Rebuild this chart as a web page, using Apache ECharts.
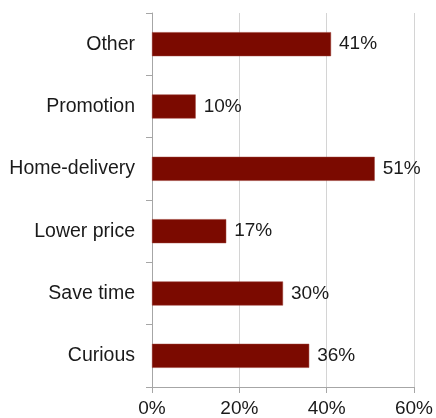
<!DOCTYPE html>
<html>
<head>
<meta charset="utf-8">
<script src="https://cdn.jsdelivr.net/npm/echarts@6/dist/echarts.min.js"></script>
<style>
  html, body { margin: 0; padding: 0; background: #fff; }
  #main { width: 436px; height: 418px; }
</style>
</head>
<body>
<div id="main"></div>
<script>
// categories listed bottom to top
var categories = ['Curious', 'Save time', 'Lower price', 'Home-delivery', 'Promotion', 'Other'];
var shares = [36, 30, 17, 51, 10, 41];
var xTicks = [0, 20, 40, 60];

var myChart = echarts.init(document.getElementById('main'));

var option = {
  backgroundColor: '#FFFFFF',
  animation: false,
  grid: { left: 152, right: 21, top: 13, bottom: 30, containLabel: false },
  xAxis: {
    type: 'value',
    min: xTicks[0],
    max: xTicks[xTicks.length - 1],
    interval: 20,
    axisLine: { show: true, lineStyle: { color: '#a6a6a6' } },
    axisTick: { show: true, length: 6, lineStyle: { color: '#a6a6a6' } },
    splitLine: { show: true, lineStyle: { color: '#d4d4d4' } },
    axisLabel: {
      formatter: '{value}%',
      color: '#1a1a1a',
      fontFamily: 'Liberation Sans',
      fontSize: 19,
      margin: 12
    }
  },
  yAxis: {
    type: 'category',
    data: categories,
    axisLine: { show: true, lineStyle: { color: '#a6a6a6' } },
    axisTick: { show: true, length: 6, lineStyle: { color: '#a6a6a6' } },
    axisLabel: {
      color: '#1a1a1a',
      fontFamily: 'Liberation Sans',
      fontSize: 19.5,
      margin: 17
    }
  },
  series: [{
    type: 'bar',
    data: shares,
    barWidth: 24,
    itemStyle: { color: '#7b0a00', borderColor: '#9a3a30', borderWidth: 0.5 },
    label: {
      show: true,
      position: 'right',
      distance: 8,
      formatter: '{c}%',
      color: '#1a1a1a',
      fontFamily: 'Liberation Sans',
      fontSize: 19
    }
  }]
};

myChart.setOption(option);
</script>
</body>
</html>
